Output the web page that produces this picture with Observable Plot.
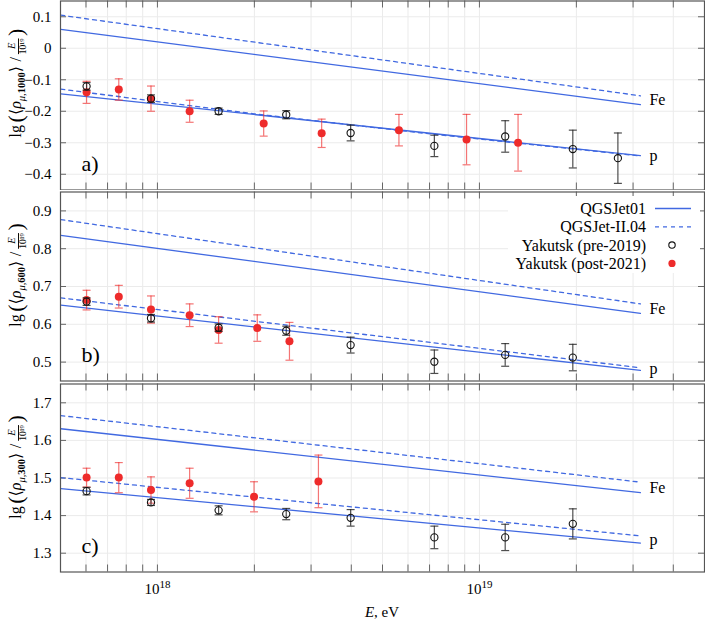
<!DOCTYPE html>
<html><head><meta charset="utf-8">
<script src="https://cdn.jsdelivr.net/npm/d3@7"></script>
<script src="https://cdn.jsdelivr.net/npm/@observablehq/plot@0.6"></script>
<style>
body{margin:0;background:#fff}
svg{display:block}
svg text{font-family:'Liberation Serif','DejaVu Serif',serif !important}
</style>
</head><body>
<script>
const FONT = "'Liberation Serif', 'DejaVu Serif', serif";
const BLUE = "#4169e1", RED = "#ee2b2b";

// ---------- x axis ----------
const xDomain = [5e17, 5e19];
const xGrid = [6e17,7e17,8e17,9e17,1e18,2e18,3e18,4e18,5e18,6e18,7e18,8e18,9e18,1e19,2e19,3e19,4e19];
const xLabelTicks = [1e18, 1e19];
const xLabelExp = ["18", "19"];
const xTitle = ["E", ", eV"];

// ---------- model lines (lg E endpoints) ----------
const modelLgE = [17.7, 19.5];

// ---------- panel a : rho_mu,1000 ----------
const aYDomain = [-0.45, 0.15];
const aYTicks = [-0.4, -0.3, -0.2, -0.1, 0, 0.1];
const aQ01Fe = [0.060, -0.179];
const aQ2Fe  = [0.105, -0.151];
const aQ01p  = [-0.145, -0.341];
const aQ2pLgE = [17.7, 18.3, 18.83, 19.5];
const aQ2p   = [-0.130, -0.208, -0.270, -0.342];
const aPreLgE = [17.78, 17.98, 18.19, 18.40, 18.60, 18.86, 19.08, 19.29, 19.43];
const aPreVal = [-0.121, -0.160, -0.200, -0.211, -0.269, -0.310, -0.280, -0.320, -0.349];
const aPreErr = [0.012, 0.012, 0.010, 0.013, 0.025, 0.034, 0.050, 0.060, 0.080];
const aPostLgE = [17.78, 17.88, 17.98, 18.10, 18.33, 18.51, 18.75, 18.96, 19.12];
const aPostVal = [-0.140, -0.131, -0.160, -0.200, -0.239, -0.270, -0.260, -0.290, -0.300];
const aPostErr = [0.035, 0.034, 0.040, 0.035, 0.040, 0.045, 0.050, 0.080, 0.090];

// ---------- panel b : rho_mu,600 ----------
const bYDomain = [0.45, 0.95];
const bYTicks = [0.5, 0.6, 0.7, 0.8, 0.9];
const bQ01Fe = [0.835, 0.629];
const bQ2Fe  = [0.877, 0.654];
const bQ01p  = [0.651, 0.478];
const bQ2p   = [0.670, 0.485];
const bPreLgE = [17.78, 17.98, 18.19, 18.40, 18.60, 18.86, 19.08, 19.29];
const bPreVal = [0.660, 0.616, 0.591, 0.583, 0.545, 0.501, 0.519, 0.512];
const bPreErr = [0.010, 0.010, 0.010, 0.012, 0.021, 0.031, 0.030, 0.035];
const bPostLgE = [17.78, 17.88, 17.98, 18.10, 18.19, 18.31, 18.41];
const bPostVal = [0.664, 0.673, 0.639, 0.624, 0.585, 0.590, 0.555];
const bPostErr = [0.026, 0.030, 0.036, 0.030, 0.035, 0.035, 0.050];

// ---------- panel c : rho_mu,300 ----------
const cYDomain = [1.25, 1.75];
const cYTicks = [1.3, 1.4, 1.5, 1.6, 1.7];
const cQ01Fe = [1.631, 1.461];
const cQ2Fe  = [1.666, 1.489];
const cQ01p  = [1.472, 1.327];
const cQ2p   = [1.501, 1.346];
const cPreLgE = [17.78, 17.98, 18.19, 18.40, 18.60, 18.86, 19.08, 19.29];
const cPreVal = [1.465, 1.435, 1.414, 1.404, 1.394, 1.342, 1.342, 1.378];
const cPreErr = [0.010, 0.008, 0.012, 0.015, 0.022, 0.030, 0.035, 0.040];
const cPostLgE = [17.78, 17.88, 17.98, 18.10, 18.30, 18.50];
const cPostVal = [1.501, 1.501, 1.468, 1.486, 1.450, 1.491];
const cPostErr = [0.025, 0.040, 0.035, 0.040, 0.040, 0.070];

const legendLabels = ["QGSJet01", "QGSJet-II.04", "Yakutsk (pre-2019)", "Yakutsk (post-2021)"];
const panelTags = ["a)", "b)", "c)"];
const subs = ["1000", "600", "300"];

// ---------- helpers ----------
const pts = (lg, v, e) => lg.map((l, i) => ({E: 10 ** l, v: v[i], e: e ? e[i] : 0}));
const line = (lg, v, key) => lg.map((l, i) => ({E: 10 ** l, v: v[i], key}));
const cap = {draw(ctx) { ctx.moveTo(-4, 0); ctx.lineTo(4, 0); }};

function errMarks(data, stroke, opacity) {
  return [
    Plot.ruleX(data, {x: "E", y1: d => d.v - d.e, y2: d => d.v + d.e, stroke, strokeOpacity: opacity, strokeWidth: 1.2}),
    Plot.dot(data, {x: "E", y: d => d.v - d.e, symbol: cap, fill: "none", stroke, strokeOpacity: opacity, strokeWidth: 1.2}),
    Plot.dot(data, {x: "E", y: d => d.v + d.e, symbol: cap, fill: "none", stroke, strokeOpacity: opacity, strokeWidth: 1.2})
  ];
}

function panel(cfg) {
  const {yDomain, yTicks, q01Fe, q2Fe, q01p, q2pLgE, q2p, pre, post, tag, height, mt, mb, xAxis} = cfg;
  const innerH = height - mt - mb, innerW = 705 - 60 - 1;
  const solid = [line(modelLgE, q01Fe, "Fe"), line(modelLgE, q01p, "p")].flat();
  const dashed = [line(modelLgE, q2Fe, "Fe"), line(q2pLgE, q2p, "p")].flat();
  const endE = 10 ** modelLgE[modelLgE.length - 1];
  const labels = [
    {E: endE, v: (q01Fe[1] + q2Fe[1]) / 2, t: "Fe"},
    {E: endE, v: (q01p[1] + q2p[q2p.length - 1]) / 2, t: "p"}
  ];
  return Plot.plot({
    width: 705, height, marginLeft: 60, marginRight: 1, marginTop: mt, marginBottom: mb,
    style: {fontFamily: FONT, fontSize: "15px", background: "white", color: "black"},
    x: Object.assign({type: "log", domain: xDomain}, xAxis
      ? {ticks: xLabelTicks, tickSize: 0, tickPadding: 11, tickFormat: () => "10", label: null}
      : {axis: null}),
    y: {domain: yDomain, ticks: yTicks, tickSize: 0, tickPadding: 9, label: null, tickFormat: d3.format(".1~f")},
    marks: [
      Plot.ruleX(xGrid, {stroke: "#ebebeb"}),
      Plot.ruleY(yTicks, {stroke: "#ebebeb"}),
      Plot.tickX(xGrid, {insetTop: innerH - 7, stroke: "#666"}),
      Plot.tickX(xGrid, {insetBottom: innerH - 7, stroke: "#666"}),
      Plot.tickY(yTicks, {insetRight: innerW - 6, stroke: "#666"}),
      Plot.tickY(yTicks, {insetLeft: innerW - 6, stroke: "#666"}),
      Plot.line(solid, {x: "E", y: "v", z: "key", stroke: BLUE, strokeWidth: 1.3}),
      Plot.line(dashed, {x: "E", y: "v", z: "key", stroke: BLUE, strokeWidth: 1.3, strokeDasharray: "4,4"}),
      ...errMarks(post, RED, 0.65),
      Plot.dot(post, {x: "E", y: "v", r: 4, fill: RED}),
      ...errMarks(pre, "#222", 0.8),
      Plot.dot(pre, {x: "E", y: "v", r: 3.6, fill: "none", stroke: "#111", strokeWidth: 1.1}),
      Plot.text(labels, {x: "E", y: "v", text: "t", dx: 9, textAnchor: "start", fontSize: 16}),
      Plot.text([tag], {frameAnchor: "bottom-left", dx: 21, dy: -19, textAnchor: "start", lineAnchor: "bottom", fontSize: 22}),
      Plot.frame({stroke: "#555", strokeWidth: 1.2})
    ]
  });
}

function yLabel(svg, cx, cy, sub) {
  const t = d3.select(svg).append("text")
    .attr("transform", `translate(${cx},${cy}) rotate(-90)`)
    .attr("text-anchor", "middle").attr("font-size", 16).attr("fill", "black");
  const sp = (txt, a = {}) => {
    const s = t.append("tspan").text(txt);
    for (const k in a) s.attr(k, a[k]);
    return s;
  };
  sp("lg");
  sp("(", {"font-size": 22, dx: 2.5, dy: 1.5});
  sp("⟨", {dy: -1.5});
  sp("ρ", {"font-style": "italic"});
  sp("μ", {"font-size": 10.5, "font-style": "italic", dy: 3.5});
  sp(",", {"font-size": 10.5});
  sp(sub, {"font-size": 10.5, "font-weight": "bold"});
  sp("⟩", {dy: -3.5});
  sp("/", {dx: 4.5});
  sp("E", {"font-size": 10.5, "font-style": "italic", dx: 8, dy: -6.5});
  sp("10" + "¹⁹", {"font-size": 9.5, dx: -11.5, dy: 11.5, "text-decoration": "overline"});
  sp(")", {"font-size": 22, dx: 2.5, dy: -3.5});
}

// ---------- build ----------
const cfgs = [
  {yDomain: aYDomain, yTicks: aYTicks, q01Fe: aQ01Fe, q2Fe: aQ2Fe, q01p: aQ01p, q2pLgE: aQ2pLgE, q2p: aQ2p,
   pre: pts(aPreLgE, aPreVal, aPreErr), post: pts(aPostLgE, aPostVal, aPostErr), tag: panelTags[0],
   height: 190, mt: 0.5, mb: 0.5, xAxis: false},
  {yDomain: bYDomain, yTicks: bYTicks, q01Fe: bQ01Fe, q2Fe: bQ2Fe, q01p: bQ01p, q2pLgE: modelLgE, q2p: bQ2p,
   pre: pts(bPreLgE, bPreVal, bPreErr), post: pts(bPostLgE, bPostVal, bPostErr), tag: panelTags[1],
   height: 192, mt: 1.5, mb: 1.5, xAxis: false},
  {yDomain: cYDomain, yTicks: cYTicks, q01Fe: cQ01Fe, q2Fe: cQ2Fe, q01p: cQ01p, q2pLgE: modelLgE, q2p: cQ2p,
   pre: pts(cPreLgE, cPreVal, cPreErr), post: pts(cPostLgE, cPostVal, cPostErr), tag: panelTags[2],
   height: 240, mt: 1.5, mb: 50.5, xAxis: true}
];
const svgs = cfgs.map(c => { const s = panel(c); document.body.appendChild(s); return s; });

// y labels
yLabel(svgs[0], 21, 83, subs[0]);
yLabel(svgs[1], 21, 85, subs[1]);
yLabel(svgs[2], 21, 85, subs[2]);

// x tick label exponents
d3.select(svgs[2]).selectAll('g[aria-label="x-axis tick label"] text').each(function(d, i) {
  d3.select(this).append("tspan").attr("font-size", 11).attr("dy", "-0.5em").text(xLabelExp[i]);
});
// x title
const xt = d3.select(svgs[2]).append("text").attr("x", 382).attr("y", 235).attr("text-anchor", "middle")
  .attr("font-size", 15);
xt.append("tspan").attr("font-style", "italic").text(xTitle[0]);
xt.append("tspan").text(xTitle[1]);

// legend in panel b
const lg = d3.select(svgs[1]).append("g").attr("font-size", 16);
lg.append("rect").attr("x", 508).attr("y", 6).attr("width", 192).attr("height", 77).attr("fill", "white");
legendLabels.forEach((lab, i) => {
  const y = 18.5 + i * 18.3;
  lg.append("text").attr("x", 646).attr("y", y).attr("dy", "0.35em").attr("text-anchor", "end").text(lab);
  if (i === 0) lg.append("line").attr("x1", 655).attr("x2", 691).attr("y1", y).attr("y2", y).attr("stroke", BLUE).attr("stroke-width", 1.3);
  if (i === 1) lg.append("line").attr("x1", 655).attr("x2", 691).attr("y1", y).attr("y2", y).attr("stroke", BLUE).attr("stroke-width", 1.3).attr("stroke-dasharray", "4,4");
  if (i === 2) lg.append("circle").attr("cx", 672).attr("cy", y).attr("r", 3.2).attr("fill", "none").attr("stroke", "#111").attr("stroke-width", 1.1);
  if (i === 3) lg.append("circle").attr("cx", 672).attr("cy", y).attr("r", 3.6).attr("fill", RED);
});
</script>
</body></html>
